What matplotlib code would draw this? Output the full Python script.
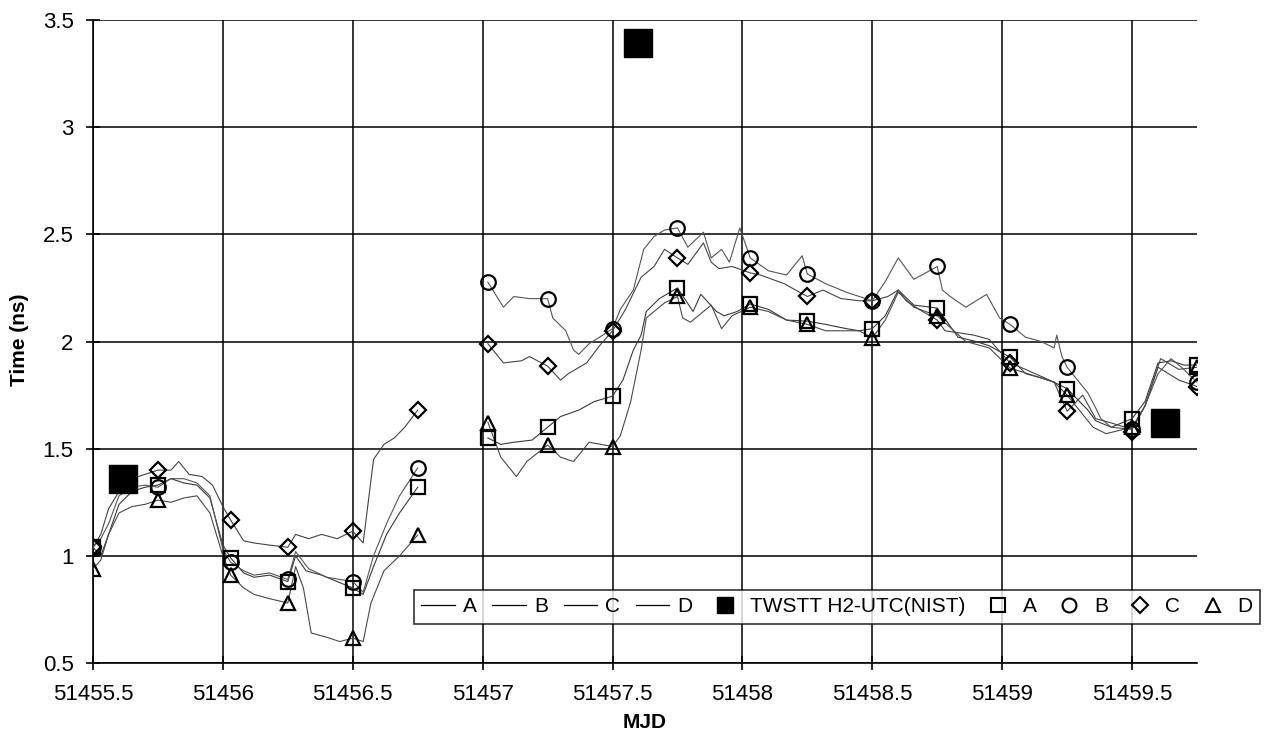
import numpy as np
import matplotlib
matplotlib.use("Agg")
import matplotlib.pyplot as plt
from matplotlib.lines import Line2D
from matplotlib.ticker import FuncFormatter

plt.rcParams['font.family'] = ['Liberation Sans', 'DejaVu Sans']

NAN = float('nan')

# ---- continuous series (MJD, ns) ----
a_t = [51455.50, 51455.53, 51455.56, 51455.60, 51455.65, 51455.70, 51455.75, 51455.80, 51455.85, 51455.90,
       51455.95, 51456.00, 51456.03, 51456.08, 51456.12, 51456.18, 51456.25, 51456.28, 51456.32, 51456.38,
       51456.44, 51456.50, 51456.54, 51456.58, 51456.63, 51456.68, 51456.75, 51456.88,
       51457.02, 51457.07, 51457.12, 51457.19, 51457.25, 51457.30, 51457.37, 51457.43, 51457.50, 51457.54,
       51457.58, 51457.61, 51457.63, 51457.68, 51457.75, 51457.81, 51457.84, 51457.90, 51457.93, 51457.98,
       51458.03, 51458.10, 51458.17, 51458.25, 51458.32, 51458.40, 51458.45, 51458.50, 51458.55, 51458.60,
       51458.66, 51458.75, 51458.83, 51458.90, 51458.95, 51459.03, 51459.09, 51459.15, 51459.20, 51459.25,
       51459.33, 51459.36, 51459.42, 51459.50, 51459.55, 51459.60, 51459.65, 51459.70, 51459.75]
a_v = [1.04, 1.00, 1.10, 1.24, 1.30, 1.32, 1.33, 1.36, 1.34, 1.33,
       1.27, 1.05, 0.99, 0.92, 0.90, 0.91, 0.88, 1.00, 0.93, 0.91,
       0.88, 0.85, 0.82, 0.95, 1.10, 1.20, 1.32, NAN,
       1.55, 1.52, 1.53, 1.54, 1.60, 1.65, 1.68, 1.72, 1.745, 1.82,
       1.96, 2.03, 2.14, 2.20, 2.25, 2.14, 2.22, 2.14, 2.12, 2.14,
       2.175, 2.15, 2.10, 2.095, 2.08, 2.06, 2.05, 2.06, 2.12, 2.24,
       2.17, 2.156, 2.02, 2.00, 1.98, 1.927, 1.85, 1.83, 1.81, 1.78,
       1.68, 1.63, 1.60, 1.64, 1.72, 1.90, 1.91, 1.89, 1.89]

b_t = [51455.50, 51455.53, 51455.56, 51455.60, 51455.65, 51455.70, 51455.75, 51455.80, 51455.85, 51455.90,
       51455.95, 51456.00, 51456.03, 51456.08, 51456.12, 51456.18, 51456.25, 51456.28, 51456.33, 51456.40,
       51456.45, 51456.50, 51456.54, 51456.58, 51456.63, 51456.68, 51456.75, 51456.88,
       51457.02, 51457.08, 51457.12, 51457.18, 51457.25, 51457.27, 51457.32, 51457.35, 51457.37, 51457.41,
       51457.45, 51457.50, 51457.53, 51457.58, 51457.62, 51457.66, 51457.70, 51457.75, 51457.79, 51457.85,
       51457.88, 51457.92, 51457.95, 51457.99, 51458.03, 51458.10, 51458.17, 51458.23, 51458.25, 51458.32,
       51458.40, 51458.45, 51458.50, 51458.55, 51458.60, 51458.66, 51458.72, 51458.75, 51458.77, 51458.80,
       51458.86, 51458.94, 51458.99, 51459.03, 51459.09, 51459.15, 51459.20, 51459.21, 51459.23, 51459.25,
       51459.33, 51459.36, 51459.38, 51459.42, 51459.50, 51459.55, 51459.60, 51459.65, 51459.69, 51459.75]
b_v = [1.04, 1.08, 1.15, 1.28, 1.32, 1.33, 1.32, 1.36, 1.36, 1.34,
       1.28, 1.03, 0.97, 0.93, 0.91, 0.92, 0.89, 1.02, 0.94, 0.90,
       0.89, 0.88, 0.83, 1.00, 1.15, 1.28, 1.41, NAN,
       2.277, 2.16, 2.21, 2.20, 2.20, 2.11, 2.05, 1.96, 1.94, 1.99,
       2.02, 2.06, 2.15, 2.24, 2.43, 2.49, 2.52, 2.53, 2.44, 2.51,
       2.39, 2.43, 2.37, 2.53, 2.39, 2.33, 2.31, 2.40, 2.315, 2.27,
       2.23, 2.21, 2.19, 2.28, 2.39, 2.29, 2.33, 2.35, 2.24, 2.21,
       2.16, 2.22, 2.11, 2.08, 2.02, 2.00, 1.97, 2.03, 1.93, 1.88,
       1.76, 1.69, 1.64, 1.60, 1.59, 1.70, 1.85, 1.92, 1.88, 1.81]

c_t = [51455.50, 51455.53, 51455.56, 51455.60, 51455.65, 51455.70, 51455.75, 51455.80, 51455.83, 51455.87,
       51455.92, 51455.96, 51456.00, 51456.03, 51456.08, 51456.12, 51456.18, 51456.25, 51456.28, 51456.33,
       51456.38, 51456.44, 51456.50, 51456.54, 51456.58, 51456.62, 51456.66, 51456.70, 51456.75, 51456.88,
       51457.02, 51457.08, 51457.15, 51457.18, 51457.25, 51457.30, 51457.33, 51457.40, 51457.45, 51457.50,
       51457.55, 51457.61, 51457.66, 51457.70, 51457.75, 51457.79, 51457.85, 51457.88, 51457.91, 51457.96,
       51458.03, 51458.07, 51458.16, 51458.25, 51458.31, 51458.38, 51458.45, 51458.50, 51458.56, 51458.60,
       51458.63, 51458.68, 51458.75, 51458.78, 51458.89, 51458.95, 51459.03, 51459.09, 51459.20, 51459.25,
       51459.31, 51459.36, 51459.42, 51459.50, 51459.55, 51459.60, 51459.68, 51459.75]
c_v = [1.04, 1.10, 1.22, 1.30, 1.36, 1.38, 1.40, 1.40, 1.44, 1.38,
       1.37, 1.33, 1.23, 1.167, 1.07, 1.06, 1.05, 1.04, 1.10, 1.08,
       1.10, 1.08, 1.115, 1.06, 1.45, 1.52, 1.55, 1.60, 1.68, NAN,
       1.99, 1.90, 1.91, 1.93, 1.885, 1.82, 1.85, 1.90, 1.98, 2.05,
       2.15, 2.30, 2.35, 2.43, 2.39, 2.36, 2.46, 2.37, 2.34, 2.35,
       2.32, 2.31, 2.27, 2.21, 2.24, 2.20, 2.19, 2.19, 2.21, 2.24,
       2.19, 2.15, 2.10, 2.05, 2.03, 2.01, 1.90, 1.87, 1.81, 1.675,
       1.75, 1.64, 1.62, 1.59, 1.70, 1.88, 1.82, 1.79]

d_t = [51455.50, 51455.53, 51455.56, 51455.60, 51455.65, 51455.70, 51455.75, 51455.80, 51455.85, 51455.90,
       51455.95, 51456.00, 51456.03, 51456.08, 51456.12, 51456.18, 51456.25, 51456.28, 51456.31, 51456.34,
       51456.40, 51456.45, 51456.50, 51456.54, 51456.57, 51456.62, 51456.68, 51456.75, 51456.88,
       51457.02, 51457.07, 51457.13, 51457.17, 51457.25, 51457.30, 51457.35, 51457.41, 51457.50, 51457.53,
       51457.57, 51457.61, 51457.63, 51457.70, 51457.75, 51457.77, 51457.80, 51457.88, 51457.92, 51457.96,
       51458.03, 51458.10, 51458.17, 51458.25, 51458.32, 51458.45, 51458.50, 51458.55, 51458.60, 51458.66,
       51458.75, 51458.86, 51458.95, 51459.03, 51459.15, 51459.20, 51459.25, 51459.35, 51459.40, 51459.50,
       51459.55, 51459.61, 51459.68, 51459.75]
d_v = [0.94, 0.98, 1.10, 1.20, 1.23, 1.24, 1.26, 1.25, 1.27, 1.28,
       1.20, 1.00, 0.91, 0.85, 0.82, 0.80, 0.78, 0.95, 0.85, 0.64,
       0.62, 0.60, 0.616, 0.60, 0.78, 0.93, 1.00, 1.097, NAN,
       1.624, 1.46, 1.37, 1.44, 1.517, 1.46, 1.44, 1.53, 1.51, 1.56,
       1.72, 1.96, 2.11, 2.18, 2.21, 2.11, 2.09, 2.17, 2.06, 2.12,
       2.16, 2.14, 2.10, 2.08, 2.05, 2.05, 2.016, 2.10, 2.23, 2.16,
       2.12, 2.00, 1.97, 1.876, 1.83, 1.81, 1.75, 1.60, 1.57, 1.60,
       1.70, 1.92, 1.87, 1.88]

# ---- sampled markers ----
m_t = [51455.50, 51455.75, 51456.03, 51456.25, 51456.50, 51456.75, 51457.02, 51457.25, 51457.50,
       51457.75, 51458.03, 51458.25, 51458.50, 51458.75, 51459.03, 51459.25, 51459.50, 51459.75]
m_a = [1.04, 1.33, 0.99, 0.88, 0.85, 1.32, 1.55, 1.60, 1.745, 2.25, 2.175, 2.095, 2.06, 2.156, 1.927, 1.78, 1.64, 1.89]
m_b = [1.04, 1.32, 0.97, 0.89, 0.88, 1.41, 2.277, 2.20, 2.06, 2.53, 2.39, 2.315, 2.19, 2.35, 2.08, 1.88, 1.59, 1.81]
m_c = [1.04, 1.40, 1.167, 1.04, 1.115, 1.68, 1.99, 1.885, 2.05, 2.39, 2.32, 2.21, 2.19, 2.10, 1.90, 1.675, 1.58, 1.79]
m_d = [0.94, 1.26, 0.91, 0.78, 0.616, 1.097, 1.62, 1.517, 1.51, 2.21, 2.16, 2.08, 2.016, 2.12, 1.876, 1.75, 1.60, 1.88]

tw_t = [51455.615, 51457.597, 51459.625]
tw_v = [1.358, 3.393, 1.619]

x_ticks = [51455.5, 51456, 51456.5, 51457, 51457.5, 51458, 51458.5, 51459, 51459.5]
y_ticks = [0.5, 1, 1.5, 2, 2.5, 3, 3.5]

fig = plt.figure(figsize=(12.81, 7.5), dpi=100)
ax = fig.add_axes([93/1281, 1-663/750, (1197-93)/1281, (663-20)/750])

line_cols = ['#3a3a3a', '#555555', '#444444', '#4a4a4a']
for t, v, c in zip([a_t, b_t, c_t, d_t], [a_v, b_v, c_v, d_v], line_cols):
    ax.plot(t, v, color=c, lw=0.8, zorder=3)

mk_kw = dict(ls='none', mfc='none', mec='black', mew=1.6, ms=10.5, zorder=4)
ax.plot(m_t, m_a, marker='s', **mk_kw)
ax.plot(m_t, m_b, marker='o', **mk_kw)
ax.plot(m_t, m_c, marker='D', **dict(mk_kw, ms=8.5))
ax.plot(m_t, m_d, marker='^', **mk_kw)
ax.plot(tw_t, tw_v, ls='none', marker='s', color='black', ms=20, zorder=5)

ax.set_xlim(51455.5, 51459.75)
ax.set_ylim(0.5, 3.5)
ax.set_xticks(x_ticks)
ax.set_yticks(y_ticks)
fmt = FuncFormatter(lambda v, p: '%g' % v)
ax.xaxis.set_major_formatter(fmt)
ax.yaxis.set_major_formatter(fmt)
ax.grid(True, color='black', lw=1.1)
ax.set_axisbelow(True)
for s in ['top', 'right']:
    ax.spines[s].set_visible(False)
ax.spines['left'].set_linewidth(1.2)
ax.spines['bottom'].set_linewidth(1.2)
ax.tick_params(axis='both', direction='inout', length=10, width=1.2, labelsize=16)
ax.tick_params(axis='x', pad=10)
ax.tick_params(axis='y', pad=9)

fig.text(20/1281, 1-340/750, 'Time (ns)', rotation=90, fontsize=15, fontweight='bold',
         ha='center', va='center')
fig.text(645/1281, 1-722/750, 'MJD', fontsize=15, fontweight='bold', ha='center', va='center')

handles = [Line2D([], [], color='black', lw=0.9) for _ in range(4)]
handles.append(Line2D([], [], ls='none', marker='s', color='black', ms=11))
handles.append(Line2D([], [], ls='none', marker='s', mfc='none', mec='black', mew=1.5, ms=10))
handles.append(Line2D([], [], ls='none', marker='o', mfc='none', mec='black', mew=1.5, ms=10))
handles.append(Line2D([], [], ls='none', marker='D', mfc='none', mec='black', mew=1.5, ms=8))
handles.append(Line2D([], [], ls='none', marker='^', mfc='none', mec='black', mew=1.5, ms=10))
labels = ['A', 'B', 'C', 'D', 'TWSTT H2-UTC(NIST)', 'A', 'B', 'C', 'D']
leg = fig.legend(handles, labels, loc='upper left', bbox_to_anchor=(414/1281, 1-590/750),
                 ncol=9, fontsize=15, frameon=True, fancybox=False, edgecolor='black',
                 handlelength=1.6, handletextpad=0.4, columnspacing=0.75, borderpad=0.35,
                 borderaxespad=0)
leg.get_frame().set_linewidth(1.2)

fig.savefig('out.png', dpi=100)
